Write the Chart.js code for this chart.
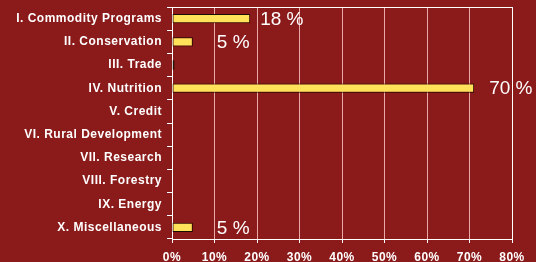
<!DOCTYPE html>
<html lang="en">
<head>
  <meta charset="UTF-8" />
  <title>Farm Bill spending by title</title>
  <script src="https://cdn.jsdelivr.net/npm/chart.js"></script>
  <style>
    html, body { margin: 0; padding: 0; background: #8b1a1a; }
    #wrap { width: 536px; height: 262px; }
  </style>
</head>
<body>
  <div id="wrap"><canvas id="barChart" width="536" height="262"></canvas></div>
  <script>
    const titles = [
      'I. Commodity Programs', 'II. Conservation', 'III. Trade', 'IV. Nutrition', 'V. Credit',
      'VI. Rural Development', 'VII. Research', 'VIII. Forestry', 'IX. Energy', 'X. Miscellaneous'
    ];
    const shares = [18.4, 4.9, 0.6, 71.1, 0, 0, 0, 0, 0, 4.9];
    const shareLabels = ['18 %', '5 %', '', '70 %', '', '', '', '', '', '5 %'];
    const xTicks = [0, 10, 20, 30, 40, 50, 60, 70, 80];

    // gap in px between bar end and its label, as placed in the original slide
    const labelGaps = [10, 24, 0, 15, 0, 0, 0, 0, 0, 24];

    const spacing = {
      id: 'spacing',
      beforeDraw(chart) { chart.ctx.letterSpacing = '0.5px'; }
    };

    const valueLabels = {
      id: 'valueLabels',
      afterDatasetsDraw(chart) {
        const ctx = chart.ctx;
        const meta = chart.getDatasetMeta(0);
        ctx.save();
        ctx.letterSpacing = '0px';
        ctx.fillStyle = '#ffffff';
        ctx.font = '19px "Liberation Sans", Arial, sans-serif';
        ctx.textBaseline = 'middle';
        meta.data.forEach((bar, i) => {
          if (!shareLabels[i]) return;
          ctx.fillText(shareLabels[i], bar.x + labelGaps[i], bar.y + 1);
        });
        ctx.restore();
      }
    };

    // white line along the top of the plot area
    const frame = {
      id: 'frame',
      afterDraw(chart) {
        const a = chart.chartArea;
        const ctx = chart.ctx;
        ctx.save();
        ctx.strokeStyle = '#ffffff';
        ctx.lineWidth = 1;
        ctx.beginPath();
        ctx.moveTo(Math.round(a.left) + 0.5, Math.round(a.top) + 0.5);
        ctx.lineTo(Math.round(a.right) + 0.5, Math.round(a.top) + 0.5);
        ctx.stroke();
        ctx.restore();
      }
    };

    new Chart(document.getElementById('barChart'), {
      type: 'bar',
      data: {
        labels: titles,
        datasets: [{
          data: shares,
          backgroundColor: '#ffe15a',
          borderColor: '#1a0a00',
          borderWidth: 1,
          borderSkipped: false,
          barPercentage: 0.4,
          categoryPercentage: 1
        }]
      },
      options: {
        indexAxis: 'y',
        responsive: false,
        animation: false,
        layout: { padding: { top: 7, right: 24, left: 0, bottom: 0 } },
        plugins: { legend: { display: false }, tooltip: { enabled: false } },
        scales: {
          x: {
            min: 0,
            max: 80,
            afterBuildTicks(scale) { scale.ticks = xTicks.map(v => ({ value: v })); },
            border: { color: '#ffffff', width: 1 },
            grid: {
              color: ctx => (ctx.tick && (ctx.tick.value === 0 || ctx.tick.value === 80)) ? '#ffffff' : 'rgba(255, 205, 205, 0.8)',
              tickColor: '#ffffff',
              tickLength: 4
            },
            ticks: {
              color: '#ffffff',
              padding: 7,
              font: { family: '"Liberation Sans", Arial, sans-serif', size: 12, weight: 'bold' },
              callback: v => v + '%'
            },
            afterFit(scale) { scale.height = 23; }
          },
          y: {
            border: { color: '#ffffff', width: 1 },
            grid: { drawOnChartArea: false, color: '#ffffff', tickLength: 5, offset: true },
            ticks: {
              color: '#ffffff',
              padding: 5,
              font: { family: '"Liberation Sans", Arial, sans-serif', size: 12, weight: 'bold' }
            },
            afterFit(scale) {
              scale.width = 172;
              scale.paddingTop = 0;
              scale.paddingBottom = 0;
            }
          }
        }
      },
      plugins: [spacing, valueLabels, frame]
    });
  </script>
</body>
</html>
